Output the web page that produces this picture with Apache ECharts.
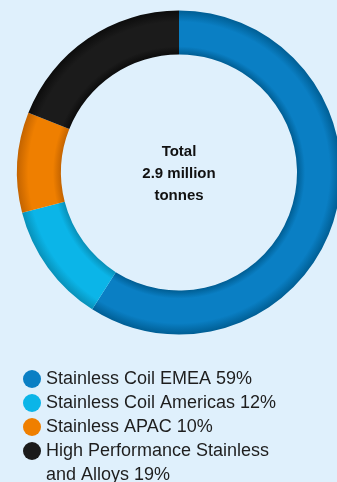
<!DOCTYPE html>
<html>
<head>
<meta charset="utf-8">
<script src="https://cdn.jsdelivr.net/npm/echarts@6/dist/echarts.min.js"></script>
<style>
  html, body { margin: 0; padding: 0; background: #dff0fc; }
  #chart { width: 337px; height: 482px; }
</style>
</head>
<body>
<div id="chart"></div>
<script>
  // data
  var segNames = ['Stainless Coil EMEA', 'Stainless Coil Americas', 'Stainless APAC', 'High Performance Stainless\nand Alloys'];
  var segShares = [59, 12, 10, 19];
  var segColors = ['#0a7fc4', '#0bb5e8', '#ef7f00', '#1b1b1b'];
  var segDark = ['#005e94', '#0890b8', '#c46400', '#0c0c0c'];
  var centerLines = ['Total', '2.9 million', 'tonnes'];

  var cx = 179, cy = 172.5, rIn = 118, rOut = 162;

  function shade(i) {
    var k = rIn / rOut;
    return {
      type: 'radial', x: cx, y: cy, r: rOut, global: true,
      colorStops: [
        { offset: k, color: segDark[i] },
        { offset: k + 0.05, color: segColors[i] },
        { offset: 0.93, color: segColors[i] },
        { offset: 1, color: segDark[i] }
      ]
    }
  }

  var pieData = segNames.map(function (n, i) {
    return { name: n, value: segShares[i], itemStyle: { color: shade(i) } };
  });

  // legend built as graphic so the wrapped label keeps its dot on the first line
  var legendItems = [];
  var rowY = 379, rowStep = 24;
  var row = 0;
  segNames.forEach(function (n, i) {
    var y = rowY + row * rowStep;
    legendItems.push({
      type: 'circle', shape: { cx: 32, cy: y, r: 9 },
      style: { fill: segColors[i] }
    });
    legendItems.push({
      type: 'text', x: 46, y: y - 12,
      style: {
        text: n + ' ' + segShares[i] + '%',
        fontFamily: 'Liberation Sans', fontSize: 18, fill: '#1e1e1e',
        lineHeight: 24, verticalAlign: 'top', align: 'left'
      }
    });
    row += n.split('\n').length;
  });

  var chart = echarts.init(document.getElementById('chart'));
  chart.setOption({
    backgroundColor: '#dff0fc',
    animation: false,
    series: [{
      type: 'pie',
      center: [cx, cy],
      radius: [rIn, rOut],
      startAngle: 90,
      clockwise: true,
      label: { show: false },
      labelLine: { show: false },
      emphasis: { disabled: true },
      itemStyle: { borderWidth: 0 },
      data: pieData
    }],
    graphic: [{
      type: 'text', x: cx, y: cy + 1.5,
      style: {
        text: centerLines.join('\n'),
        fontFamily: 'Liberation Sans', fontWeight: 'bold', fontSize: 15,
        fill: '#111', lineHeight: 22, align: 'center', verticalAlign: 'middle'
      }
    }].concat(legendItems)
  });
</script>
</body>
</html>
